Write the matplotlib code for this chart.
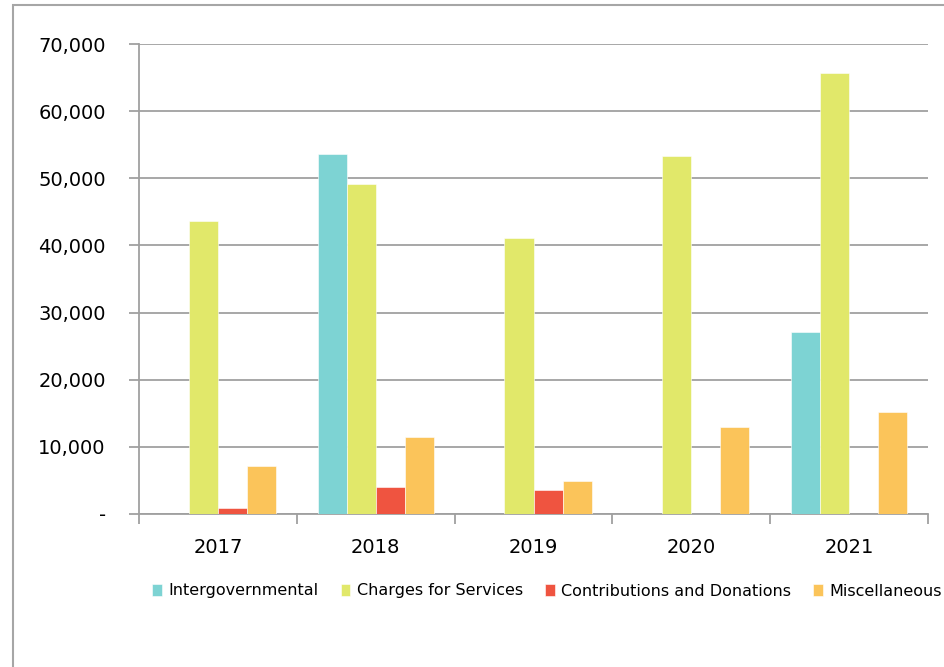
import matplotlib
matplotlib.use("Agg")
import matplotlib.pyplot as plt
import numpy as np
from matplotlib.patches import Rectangle
from matplotlib.ticker import FuncFormatter, MultipleLocator, FixedLocator

years = ["2017", "2018", "2019", "2020", "2021"]
series_names = ["Intergovernmental", "Charges for Services",
                "Contributions and Donations", "Miscellaneous"]
intergovernmental = [0, 53600, 0, 0, 27100]
charges_for_services = [43600, 49100, 41100, 53300, 65700]
contributions_donations = [900, 4000, 3600, 0, 0]
miscellaneous = [7150, 11500, 4900, 12900, 15200]
colors = ["#7dd3d3", "#e1e86a", "#ef5440", "#fbc45a"]

series = [intergovernmental, charges_for_services,
          contributions_donations, miscellaneous]

plt.rcParams["font.family"] = ["DejaVu Sans"]

fig = plt.figure(figsize=(9.44, 6.67), dpi=100)
ax = fig.add_axes([139 / 944, 1 - 514 / 667, (928 - 139) / 944, (514 - 44) / 667])

# outer chart frame
fig.patches.append(Rectangle((13 / 944, -0.1), 1.2, (1 - 5 / 667) + 0.1,
                             transform=fig.transFigure, fill=False,
                             edgecolor="#a6a6a6", linewidth=1.5))

x = np.arange(len(years))
bw = 0.184
for i, (vals, name, c) in enumerate(zip(series, series_names, colors)):
    ax.bar(x + (i - 1.5) * bw, vals, width=bw, color=c, label=name,
           edgecolor="white", linewidth=0.4, zorder=3)

ax.set_xlim(-0.5, len(years) - 0.5)
ax.set_ylim(0, 70000)
ax.yaxis.set_major_locator(MultipleLocator(10000))
ax.yaxis.set_major_formatter(FuncFormatter(lambda v, p: "-" if v == 0 else f"{v:,.0f}"))
ax.grid(axis="y", color="#a0a0a0", linewidth=1.3, zorder=0)

ax.set_xticks(x)
ax.set_xticklabels(years)
ax.xaxis.set_minor_locator(FixedLocator(np.arange(-0.5, len(years), 1.0)))
ax.tick_params(axis="x", which="major", length=0, pad=17, labelsize=14, colors="#000000")
ax.tick_params(axis="x", which="minor", length=7, width=1.3, color="#a0a0a0")
ax.tick_params(axis="y", length=7, width=1.3, color="#a0a0a0", pad=17, labelsize=14)

for s in ["top", "right"]:
    ax.spines[s].set_visible(False)
for s in ["left", "bottom"]:
    ax.spines[s].set_color("#a0a0a0")
    ax.spines[s].set_linewidth(1.3)

leg = fig.legend(loc="center", bbox_to_anchor=(547 / 944, 1 - 591 / 667), ncol=4,
                 frameon=False, fontsize=11.5, handlelength=0.6, handleheight=0.75,
                 handletextpad=0.4, columnspacing=1.4)

fig.savefig("out.png", dpi=100)
